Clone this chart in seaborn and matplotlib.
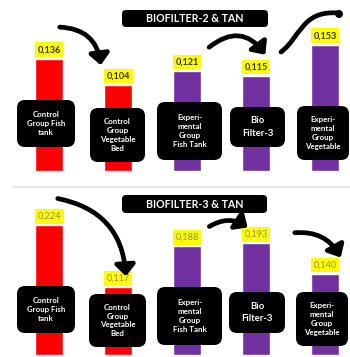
import numpy as np
import pandas as pd
import matplotlib.pyplot as plt
import seaborn as sns
from matplotlib.patches import FancyBboxPatch, FancyArrowPatch, PathPatch, Circle
from matplotlib.path import Path
from matplotlib.transforms import Affine2D

# data
groups = ['Control Group Fish tank', 'Control Group Vegetable Bed',
          'Experimental Group Fish Tank', 'Bio Filter-3', 'Experimental Group Vegetable']
box_texts = ['Control\nGroup Fish\ntank', 'Control\nGroup\nVegetable\nBed',
             'Experi-\nmental\nGroup\nFish Tank', 'Bio\nFilter-3',
             'Experi-\nmental\nGroup\nVegetable']
tan_bf2 = [0.136, 0.104, 0.121, 0.115, 0.153]
tan_bf3 = [0.224, 0.117, 0.188, 0.193, 0.140]
bar_colors = ['#ff0000', '#ff0000', '#7030a0', '#7030a0', '#7030a0']
titles = ['BIOFILTER-2 & TAN', 'BIOFILTER-3 & TAN']

sns.set_theme(style='white')
plt.rcParams['font.family'] = ['Lato', 'DejaVu Sans']

W, H = 350, 357
fig = plt.figure(figsize=(3.5, 3.57), dpi=100)
# pixel coords with origin at top-left
px = Affine2D().scale(1 / W, -1 / H).translate(0, 1) + fig.transFigure

ax1 = fig.add_axes([0, (H - 171) / H, 1, 171 / H])
ax2 = fig.add_axes([0, 0, 1, 168 / H])

panels = [(ax1, tan_bf2, (0, 171 / 823), '#333311', 'bold', 3.5),
          (ax2, tan_bf3, (-2 / 580, 166 / 580), '#8c8c55', 'normal', 3.0)]

for ax, vals, ylim, lab_col, lab_w, pad in panels:
    df = pd.DataFrame({'group': groups, 'tan': vals})
    sns.barplot(data=df, x='group', y='tan', hue='group', palette=bar_colors,
                legend=False, width=0.406, saturation=1, ax=ax)
    for c, v in zip(ax.containers, vals):
        ax.bar_label(c, labels=[f'{v:.3f}'.replace('.', ',')], padding=pad,
                     fontsize=6.6, fontweight=lab_w, color=lab_col,
                     bbox=dict(boxstyle='square,pad=0.3', fc='#ffff00', ec='none'))
    ax.set_xlim(-49 / 69, 301 / 69)
    ax.set_ylim(*ylim)
    ax.axis('off')

# divider line
fig.add_artist(plt.Line2D([13, 350], [187, 187], transform=px, color='#e2e2e2', lw=1.2))

# titles
for (x0, y0, x1, y1), t in zip([(122, 10, 268, 27), (122, 195, 267, 213)], titles):
    fig.add_artist(FancyBboxPatch((x0, y0), x1 - x0, y1 - y0, transform=px,
                                  boxstyle='round,pad=0,rounding_size=4',
                                  fc='black', ec='none'))
    fig.text((x0 + x1) / 2, (y0 + y1) / 2 + 0.5, t, transform=px, ha='center',
             va='center', color='white', fontsize=7.7, fontweight='bold')

# black label boxes
boxes_top = [(17, 100, 75, 147), (90, 108, 145, 162), (157, 102, 222, 160),
             (230, 107, 285, 147), (297, 106, 349, 160)]
boxes_bot = [(17, 286, 75, 333), (89, 294, 146, 347), (157, 287, 222, 345),
             (229, 292, 285, 333), (296, 292, 348, 346)]
for boxes in [boxes_top, boxes_bot]:
    for i, ((x0, y0, x1, y1), t) in enumerate(zip(boxes, box_texts)):
        fig.add_artist(FancyBboxPatch((x0, y0), x1 - x0, y1 - y0, transform=px,
                                      boxstyle='round,pad=0,rounding_size=8',
                                      fc='black', ec='none'))
        fs = 6.8 if i == 3 else 5.7
        ls = 1.45 if i == 3 else 1.3
        fig.text((x0 + x1) / 2, (y0 + y1) / 2, t, transform=px, ha='center',
                 va='center', color='white', fontsize=fs, fontweight='bold',
                 linespacing=ls)

# hand drawn arrows
arrows = [((57, 27), (101, 68), -0.45),
          ((207, 49), (267, 57), -0.55),
          ((55, 198), (126, 279), -0.4),
          ((207, 228), (250, 229), -0.35),
          ((292, 233), (342, 260), -0.35)]
for a, b, rad in arrows:
    fig.add_artist(FancyArrowPatch(a, b, transform=px,
                                   connectionstyle=f'arc3,rad={rad}',
                                   arrowstyle='-|>,head_length=0.55,head_width=0.5',
                                   mutation_scale=12, lw=3.4, color='black',
                                   capstyle='round'))

squiggle = Path([(281, 52), (300, 38), (302, 10), (338, 13)],
                [Path.MOVETO, Path.CURVE4, Path.CURVE4, Path.CURVE4])
fig.add_artist(PathPatch(squiggle, transform=px, fill=False, lw=3.4,
                         color='black', capstyle='round'))
fig.add_artist(Circle((339, 14), 3.3, transform=px, color='black'))

fig.savefig('out.png', dpi=100)
